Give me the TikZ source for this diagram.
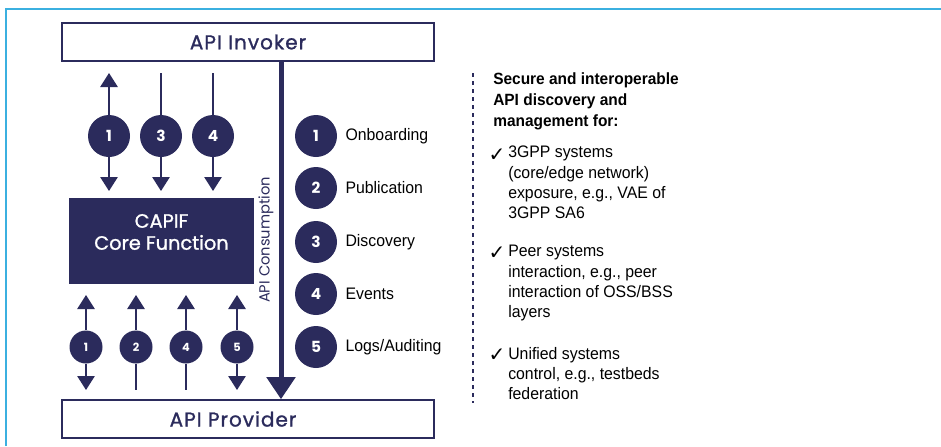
\documentclass[tikz,border=0pt]{standalone}
\usepackage{fontspec}
\setmainfont{Poppins}
\newfontfamily\geomedium[FakeBold=1.2]{Poppins}
\newfontfamily\narrowsans[FakeStretch=0.95]{Liberation Sans}
\newfontfamily\symbolsans{DejaVu Sans}
\usetikzlibrary{arrows.meta,positioning}
\definecolor{azulCapif}{HTML}{2B2B5C}
\definecolor{cianMarco}{HTML}{3BB0E0}

\begin{document}
\begin{tikzpicture}[x=0.75pt,y=-0.75pt,
    hostbox/.style={draw=azulCapif,line width=1.2pt,minimum width=279pt,minimum height=28.5pt,inner sep=0pt,text=azulCapif,font=\geomedium\fontsize{15}{18}\selectfont\addfontfeature{LetterSpace=5}},
    corebox/.style={fill=azulCapif,minimum width=138.75pt,minimum height=64.5pt,inner sep=0pt},
    coretext/.style={text=white,align=center,inner sep=0pt,font=\geomedium\fontsize{14.5}{16.5}\selectfont},
    bignum/.style={circle,fill=azulCapif,minimum size=31.5pt,inner sep=0pt,text=white,font=\bfseries\fontsize{11.5}{13}\selectfont},
    smallnum/.style={circle,fill=azulCapif,minimum size=24.75pt,inner sep=0pt,text=white,font=\bfseries\fontsize{8.5}{10}\selectfont},
    flow/.style={draw=azulCapif,line width=1.3pt,-{Triangle[width=13pt,length=10.5pt]}},
    link/.style={draw=azulCapif,line width=1.3pt},
    consume/.style={draw=azulCapif,line width=3.75pt,-{Triangle[width=21pt,length=16.5pt]}},
    conslabel/.style={rotate=90,text=azulCapif,inner sep=0pt,font=\fontsize{11}{13}\selectfont},
    legtext/.style={inner sep=0pt,font=\narrowsans\fontsize{12.5}{15}\selectfont},
    sidehead/.style={anchor=north west,align=left,inner sep=0pt,font=\narrowsans\bfseries\fontsize{12.2}{15.75}\selectfont},
    sideitem/.style={anchor=north west,align=left,inner sep=0pt,font=\narrowsans\fontsize{12.5}{15.2}\selectfont},
    tick/.style={inner sep=0pt,font=\symbolsans\fontsize{15}{15}\selectfont}]
    \useasboundingbox (0,0) rectangle (941,446);
    \draw[cianMarco,line width=1.5pt] (6,446) -- (6,9) -- (941,9);

    \node[hostbox] (inv) at (248,42) {API Invoker};
    \node[hostbox] (prov) at (248,419) {\hspace*{-22.5pt}API Provider};
    \node[corebox] (core) at (161.5,241) {};
    \node[coretext] (coretxt) at (161.5,232) {CAPIF\\Core Function};

    \node[bignum] (t1) at (109,136) {1};
    \node[bignum] (t3) at (161,136) {3};
    \node[bignum] (t4) at (213,136) {4};
    \coordinate (t1a) at (109,73);
    \coordinate (t1b) at (109,191);
    \coordinate (t3a) at (161,73);
    \coordinate (t3b) at (161,191);
    \coordinate (t4a) at (213,73);
    \coordinate (t4b) at (213,191);
    \draw[flow] (t1) -- (t1a);
    \draw[flow] (t1) -- (t1b);
    \draw[link] (t3a) -- (t3);
    \draw[flow] (t3) -- (t3b);
    \draw[link] (t4a) -- (t4);
    \draw[flow] (t4) -- (t4b);

    \node[smallnum] (b1) at (86,347) {1};
    \node[smallnum] (b2) at (136,347) {2};
    \node[smallnum] (b4) at (186,347) {4};
    \node[smallnum] (b5) at (237,347) {5};
    \coordinate (b1a) at (86,295);
    \coordinate (b1b) at (86,390);
    \coordinate (b2a) at (136,295);
    \coordinate (b2b) at (136,390);
    \coordinate (b4a) at (186,295);
    \coordinate (b4b) at (186,390);
    \coordinate (b5a) at (237,295);
    \coordinate (b5b) at (237,390);
    \draw[flow] (b1) -- (b1a);
    \draw[flow] (b1) -- (b1b);
    \draw[flow] (b2) -- (b2a);
    \draw[link] (b2) -- (b2b);
    \draw[flow] (b4) -- (b4a);
    \draw[link] (b4) -- (b4b);
    \draw[flow] (b5) -- (b5a);
    \draw[flow] (b5) -- (b5b);

    \coordinate (cons) at (281,240);
    \draw[consume] (inv.south -| cons) -- (prov.north -| cons);
    \node[conslabel] (conslab) at (266,240) {API Consumption};

    \node[bignum] (l1) at (316,136) {1};
    \node[bignum] (l2) at (316,188) {2};
    \node[bignum] (l3) at (316,242) {3};
    \node[bignum] (l4) at (316,294) {4};
    \node[bignum] (l5) at (316,347) {5};
    \node[legtext,right=6pt of l1] (l1txt) {Onboarding};
    \node[legtext,right=6pt of l2] (l2txt) {Publication};
    \node[legtext,right=6pt of l3] (l3txt) {Discovery};
    \node[legtext,right=6pt of l4] (l4txt) {Events};
    \node[legtext,right=6pt of l5] (l5txt) {Logs/Auditing};

    \draw[azulCapif,line width=1.1pt,dash pattern=on 3pt off 3pt] (473,73) -- (473,403);
    \node[sidehead] (head) at (493,72) {Secure and interoperable\\API discovery and\\management for:};
    \node[tick] (ck1) at (497,155) {✓};
    \node[sideitem] (it1) at (508,146) {3GPP systems\\(core/edge network)\\exposure, e.g., VAE of\\3GPP SA6};
    \node[tick] (ck2) at (497,253) {✓};
    \node[sideitem] (it2) at (508,245) {Peer systems\\interaction, e.g., peer\\interaction of OSS/BSS\\layers};
    \node[tick] (ck3) at (497,355) {✓};
    \node[sideitem] (it3) at (508,347) {Unified systems\\control, e.g., testbeds\\federation};
\end{tikzpicture}
\end{document}
